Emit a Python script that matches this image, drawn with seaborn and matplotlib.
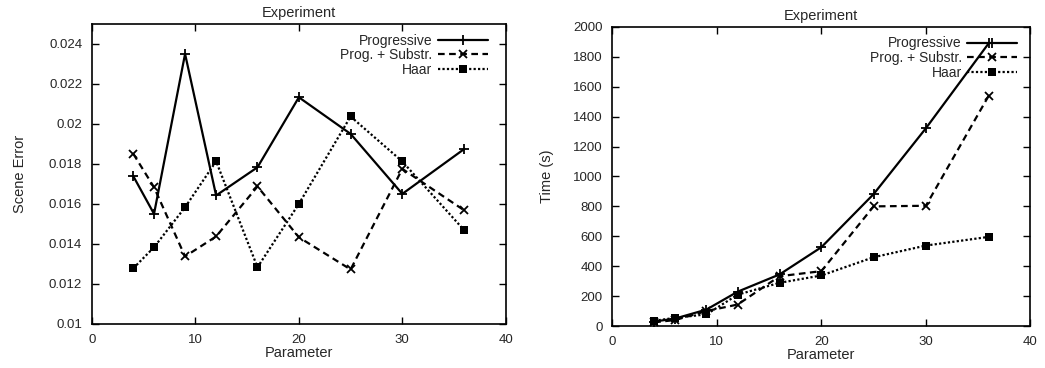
import matplotlib
matplotlib.use("Agg")
import matplotlib.pyplot as plt
import seaborn as sns
import pandas as pd

sns.set_style("ticks")
plt.rcParams["font.family"] = ["Liberation Sans", "DejaVu Sans"]
plt.rcParams["font.size"] = 9.5

# data
param = [4, 6, 9, 12, 16, 20, 25, 30, 36]
series = ["Progressive", "Prog. + Substr.", "Haar"]

error_prog = [0.01738, 0.0155, 0.0235, 0.01642, 0.01783, 0.02133, 0.0195, 0.0165, 0.01875]
error_subst = [0.0185, 0.01683, 0.01337, 0.01437, 0.01687, 0.01433, 0.01272, 0.01775, 0.01567]
error_haar = [0.01278, 0.01383, 0.01583, 0.01813, 0.01283, 0.016, 0.02037, 0.01812, 0.01467]

time_prog = [30, 50, 110, 230, 345, 527, 882, 1322, 1889]
time_subst = [25, 40, 100, 144, 333, 367, 800, 804, 1538]
time_haar = [35, 55, 78, 210, 289, 338, 460, 538, 596]

styles = {
    "Progressive": dict(linestyle="-", marker="+", markersize=7, mew=1.3),
    "Prog. + Substr.": dict(linestyle=(0, (3, 2)), marker="x", markersize=5.5, mew=1.3),
    "Haar": dict(linestyle=(0, (1, 1)), marker="s", markersize=5.5, mew=0),
}


def draw_panel(ax, values, ylabel, ylim, yticks, yfmt, legend_anchor, ylabelpad):
    df = pd.DataFrame({"Parameter": param * 3,
                       "value": sum(values, []),
                       "series": [s for s in series for _ in param]})
    for name in series:
        sub = df[df["series"] == name]
        sns.lineplot(data=sub, x="Parameter", y="value", ax=ax, color="black",
                     mec="black", mfc="black", linewidth=1.6, label=name,
                     **styles[name])
    ax.set_xlim(0, 40)
    ax.set_xticks([0, 10, 20, 30, 40])
    ax.set_ylim(*ylim)
    ax.set_yticks(yticks)
    ax.set_yticklabels([yfmt(v) for v in yticks])
    ax.set_xlabel("Parameter", labelpad=0, fontsize=10.5)
    ax.set_ylabel(ylabel, labelpad=ylabelpad, fontsize=10.5)
    ax.set_title("Experiment", fontsize=10.5, pad=5)
    ax.tick_params(direction="in", length=5, width=1, top=True, right=True,
                   labelsize=9.5, pad=7, color="black")
    for sp in ax.spines.values():
        sp.set_linewidth(1.2)
        sp.set_color("black")
    ax.legend(loc="upper right", bbox_to_anchor=legend_anchor, frameon=False,
              markerfirst=False, handlelength=3.6, handletextpad=0.4,
              labelspacing=0.05, borderpad=0, borderaxespad=0, fontsize=10)


fig = plt.figure(figsize=(10.45, 3.68), dpi=100)
ax1 = fig.add_axes([0.088, 0.12, 0.396, 0.815])
ax2 = fig.add_axes([0.586, 0.114, 0.400, 0.813])

draw_panel(ax1, [error_prog, error_subst, error_haar], "Scene Error",
           (0.01, 0.025), [0.01 + 0.002 * i for i in range(8)],
           lambda v: f"{v:.3f}".rstrip("0") if round(v, 3) in (0.01, 0.02) else f"{v:.3f}",
           (0.957, 0.968), 16)
draw_panel(ax2, [time_prog, time_subst, time_haar], "Time (s)",
           (0, 2000), list(range(0, 2001, 200)), lambda v: f"{v}",
           (0.969, 0.968), 14)

fig.savefig("out.png", dpi=100)
